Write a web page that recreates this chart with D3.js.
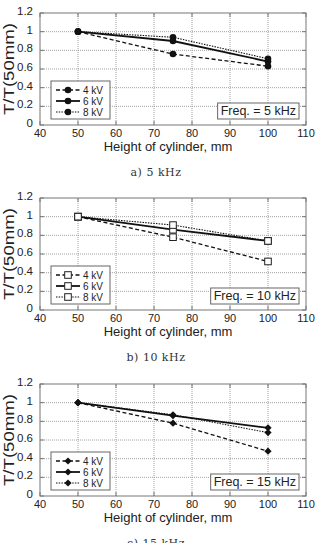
<!DOCTYPE html>
<html>
<head>
<meta charset="utf-8">
<script src="https://cdn.jsdelivr.net/npm/d3@7"></script>
<style>
  html, body { margin: 0; padding: 0; background: #fff; }
  svg { display: block; }
</style>
</head>
<body>
<svg id="chart" width="320" height="543"></svg>
<script>
const heights = [50, 75, 100];
const xTicks = [40, 50, 60, 70, 80, 90, 100, 110];
const yTicks = [0, 0.2, 0.4, 0.6, 0.8, 1, 1.2];
const yTickLabels = ["0", "0.2", "0.4", "0.6", "0.8", "1", "1.2"];
const voltages = ["4 kV", "6 kV", "8 kV"];

const f5_4kV = [1.0, 0.76, 0.63];
const f5_6kV = [1.0, 0.90, 0.68];
const f5_8kV = [1.0, 0.94, 0.71];

const f10_4kV = [1.0, 0.78, 0.52];
const f10_6kV = [1.0, 0.86, 0.74];
const f10_8kV = [1.0, 0.91, 0.74];

const f15_4kV = [1.0, 0.78, 0.48];
const f15_6kV = [1.0, 0.86, 0.73];
const f15_8kV = [1.0, 0.87, 0.68];

const freqLabels = ["Freq. = 5 kHz", "Freq. = 10 kHz", "Freq. = 15 kHz"];
const captions = ["a) 5 kHz", "b) 10 kHz", "c) 15 kHz"];
const markers = ["circle", "square", "diamond"];

const panels = [
  { bottom: 125, series: [f5_4kV, f5_6kV, f5_8kV] },
  { bottom: 310, series: [f10_4kV, f10_6kV, f10_8kV] },
  { bottom: 496, series: [f15_4kV, f15_6kV, f15_8kV] }
];

const svg = d3.select("#chart");
const left = 40, right = 306, plotH = 112;

// line styles per voltage
const lineStyle = [
  { dash: "4,2.5", width: 1.3 },
  { dash: null, width: 1.8 },
  { dash: "1.5,1.2", width: 1.1 }
];

const drawMarker = (g, type, cx, cy) => {
  if (type === "circle") {
    g.append("circle").attr("cx", cx).attr("cy", cy).attr("r", 3.3)
      .attr("fill", "#111");
  } else if (type === "square") {
    g.append("rect").attr("x", cx - 3.3).attr("y", cy - 3.3)
      .attr("width", 6.6).attr("height", 6.6)
      .attr("fill", "#fff").attr("stroke", "#222").attr("stroke-width", 1);
  } else {
    const s = 3.6;
    g.append("path")
      .attr("d", `M${cx},${cy - s}L${cx + s},${cy}L${cx},${cy + s}L${cx - s},${cy}Z`)
      .attr("fill", "#111");
  }
};

panels.forEach((p, pi) => {
  const x = d3.scaleLinear().domain([40, 110]).range([left, right]);
  const y = d3.scaleLinear().domain([0, 1.2]).range([p.bottom, p.bottom - plotH]);
  const g = svg.append("g");

  // grid
  g.selectAll(".vg").data(xTicks.slice(1, -1)).join("line")
    .attr("x1", d => x(d)).attr("x2", d => x(d))
    .attr("y1", y(0)).attr("y2", y(1.2))
    .attr("stroke", "#8a8a8a").attr("stroke-width", 0.8)
    .attr("stroke-dasharray", "1,1");
  g.selectAll(".hg").data(yTicks.slice(1, -1)).join("line")
    .attr("x1", left).attr("x2", right)
    .attr("y1", d => y(d)).attr("y2", d => y(d))
    .attr("stroke", "#8a8a8a").attr("stroke-width", 0.8)
    .attr("stroke-dasharray", "1,1");

  // frame
  g.append("rect").attr("x", left).attr("y", y(1.2))
    .attr("width", right - left).attr("height", plotH)
    .attr("fill", "none").attr("stroke", "#777").attr("stroke-width", 1);

  // inward ticks
  g.selectAll(".xt").data(xTicks).join("line")
    .attr("x1", d => x(d)).attr("x2", d => x(d))
    .attr("y1", y(0)).attr("y2", y(0) - 4)
    .attr("stroke", "#777");
  g.selectAll(".xt2").data(xTicks).join("line")
    .attr("x1", d => x(d)).attr("x2", d => x(d))
    .attr("y1", y(1.2)).attr("y2", y(1.2) + 4)
    .attr("stroke", "#777");
  g.selectAll(".yt").data(yTicks).join("line")
    .attr("x1", left).attr("x2", left + 4)
    .attr("y1", d => y(d)).attr("y2", d => y(d))
    .attr("stroke", "#777");
  g.selectAll(".yt2").data(yTicks).join("line")
    .attr("x1", right).attr("x2", right - 4)
    .attr("y1", d => y(d)).attr("y2", d => y(d))
    .attr("stroke", "#777");

  // tick labels
  g.selectAll(".xl").data(xTicks).join("text")
    .attr("x", d => x(d)).attr("y", y(0) + 12)
    .attr("text-anchor", "middle")
    .style("font", "11px 'Liberation Sans', Arial, sans-serif")
    .attr("fill", "#222")
    .text(d => d);
  g.selectAll(".yl").data(yTicks).join("text")
    .attr("x", 33).attr("y", d => y(d) + 2)
    .attr("text-anchor", "end")
    .style("font", "11.5px 'Liberation Sans', Arial, sans-serif")
    .attr("fill", "#222")
    .text((d, i) => yTickLabels[i]);

  // axis titles
  g.append("text")
    .attr("x", 168).attr("y", y(0) + 25.5)
    .attr("text-anchor", "middle")
    .style("font", "13px 'Liberation Sans', Arial, sans-serif")
    .attr("fill", "#222")
    .text("Height of cylinder, mm");
  g.append("text")
    .attr("transform", `translate(13.5, ${y(0.6)}) rotate(-90)`)
    .attr("text-anchor", "middle")
    .attr("textLength", 92).attr("lengthAdjust", "spacingAndGlyphs")
    .style("font", "14px 'Liberation Sans', Arial, sans-serif")
    .attr("fill", "#222")
    .text("T/T(50mm)");

  // series
  const line = d3.line().x((d, i) => x(heights[i])).y(d => y(d));
  p.series.forEach((vals, si) => {
    g.append("path").datum(vals)
      .attr("d", line)
      .attr("fill", "none").attr("stroke", "#111")
      .attr("stroke-width", lineStyle[si].width)
      .attr("stroke-dasharray", lineStyle[si].dash);
  });
  p.series.forEach(vals => {
    vals.forEach((v, i) => drawMarker(g, markers[pi], x(heights[i]), y(v)));
  });

  // legend
  const lx = 51, ly = y(0) - 44;
  g.append("rect").attr("x", lx).attr("y", ly).attr("width", 59).attr("height", 38)
    .attr("fill", "#fff").attr("stroke", "#666").attr("stroke-width", 1);
  voltages.forEach((v, si) => {
    const ry = ly + 9 + si * 11;
    g.append("line").attr("x1", lx + 5).attr("x2", lx + 29)
      .attr("y1", ry).attr("y2", ry)
      .attr("stroke", "#111").attr("stroke-width", lineStyle[si].width)
      .attr("stroke-dasharray", lineStyle[si].dash);
    drawMarker(g, markers[pi], lx + 17, ry);
    g.append("text").attr("x", lx + 32).attr("y", ry + 3.5)
      .style("font", "10px 'Liberation Sans', Arial, sans-serif")
      .attr("fill", "#222")
      .text(v);
  });

  // frequency box
  const ft = g.append("text")
    .attr("y", y(0) - 10.5)
    .style("font", "12.5px 'Liberation Sans', Arial, sans-serif")
    .attr("fill", "#222")
    .text(freqLabels[pi]);
  const tw = ft.node().getComputedTextLength();
  const fx = 299 - tw - 6;
  ft.attr("x", fx + 3);
  g.insert("rect", "text:last-child")
    .attr("x", fx).attr("y", y(0) - 22)
    .attr("width", tw + 6).attr("height", 16)
    .attr("fill", "#fff").attr("stroke", "#666");
  ft.raise();

  // caption
  svg.append("text")
    .attr("x", 156).attr("y", y(0) + 51)
    .attr("text-anchor", "middle")
    .style("font", "11px 'DejaVu Serif', 'Liberation Serif', serif")
    .style("letter-spacing", "0.5px")
    .attr("fill", "#333")
    .text(captions[pi]);
});
</script>
</body>
</html>
